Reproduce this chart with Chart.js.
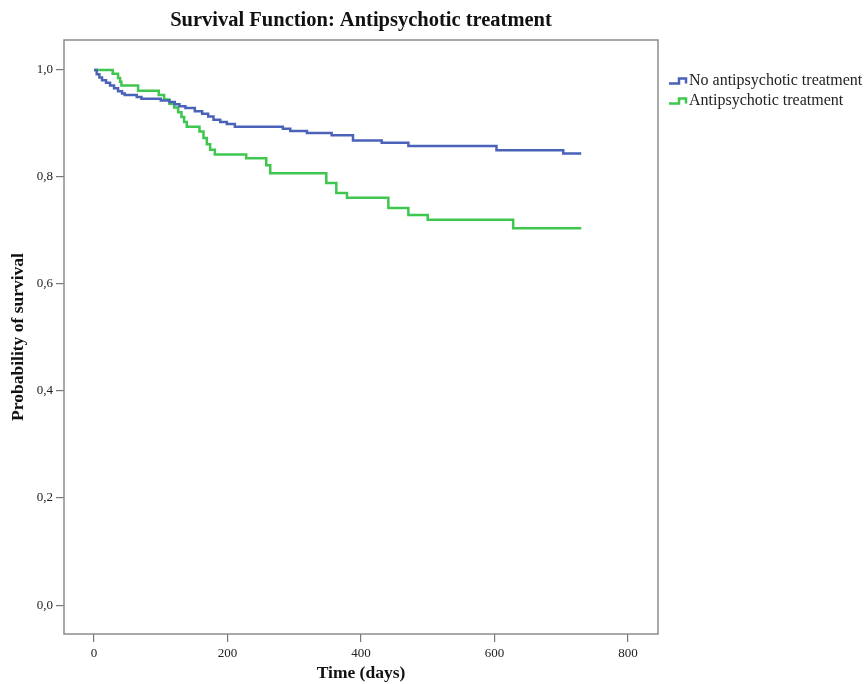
<!DOCTYPE html>
<html>
<head>
<meta charset="utf-8">
<script src="https://cdn.jsdelivr.net/npm/chart.js@4.4.1/dist/chart.umd.min.js"></script>
<style>
  html, body { margin: 0; padding: 0; background: #fff; }
  #wrap { width: 868px; height: 684px; }
</style>
</head>
<body>
<div id="wrap"><canvas id="myChart" width="868" height="684"></canvas></div>
<script>
// Kaplan-Meier step points (day of drop, survival after drop)
let noTreatDays = [0, 4, 8, 12, 18, 24, 30, 36, 42, 46, 64, 71, 100, 113, 121, 128, 137, 151, 162, 171, 179, 189, 199, 211, 283, 294, 319, 356, 388, 431, 471, 603, 703, 730]
let noTreatSurv = [1.0, 0.992, 0.986, 0.981, 0.976, 0.971, 0.966, 0.960, 0.956, 0.953, 0.9495, 0.946, 0.943, 0.940, 0.936, 0.932, 0.929, 0.923, 0.918, 0.913, 0.907, 0.903, 0.899, 0.894, 0.890, 0.886, 0.882, 0.878, 0.868, 0.864, 0.858, 0.850, 0.844, 0.844]

let treatDays = [0, 28, 36, 39, 41, 66, 97, 105, 113, 120, 126, 131, 135, 139, 158, 164, 169, 174, 181, 228, 258, 264, 348, 363, 379, 441, 471, 500, 628, 730]
let treatSurv = [1.0, 0.993, 0.985, 0.978, 0.971, 0.961, 0.953, 0.945, 0.937, 0.930, 0.921, 0.912, 0.903, 0.894, 0.885, 0.873, 0.861, 0.851, 0.842, 0.835, 0.822, 0.807, 0.789, 0.770, 0.761, 0.742, 0.729, 0.720, 0.704, 0.704]

let seriesNames = ["No antipsychotic treatment", "Antipsychotic treatment"]
let seriesColors = ['#4a62b8', '#3ec64f']
let xTicks = [0, 200, 400, 600, 800]
let yTicks = [0, 0.2, 0.4, 0.6, 0.8, 1.0]

function toPoints(days, surv) {
    return days.map((d, i) => ({x: d, y: surv[i]}))
}

let serif = "'Liberation Serif', 'DejaVu Serif', serif"

// frame round the plot area + legend to the right of it, like SPSS
let spssBits = {
    id: 'spssBits',
    afterDraw(chart) {
        let c = chart.ctx
        let a = chart.chartArea
        c.save()
        c.strokeStyle = '#8c8c8c'
        c.lineWidth = 1.5
        c.strokeRect(a.left, a.top, a.right - a.left, a.bottom - a.top)

        c.font = "16px " + serif
        c.textBaseline = 'middle'
        c.fillStyle = '#222'
        let lx = a.right + 11
        seriesNames.forEach((name, i) => {
            let y = 81 + i * 20
            c.strokeStyle = seriesColors[i]
            c.lineWidth = 2.5
            c.beginPath()
            c.moveTo(lx, y + 2.5)
            c.lineTo(lx + 10, y + 2.5)
            c.lineTo(lx + 10, y - 2.5)
            c.lineTo(lx + 17, y - 2.5)
            c.lineTo(lx + 17, y + 2.5)
            c.stroke()
            c.fillText(name, lx + 20, y)
        })
        c.restore()
    }
}

let ctx = document.querySelector("#myChart")
let graphData = {
    type: 'line',
    data: {
        datasets: [{
            label: seriesNames[0],
            data: toPoints(noTreatDays, noTreatSurv),
            borderColor: seriesColors[0],
            borderWidth: 2.5,
            stepped: 'before',
            pointRadius: 0,
            fill: false
        }, {
            label: seriesNames[1],
            data: toPoints(treatDays, treatSurv),
            borderColor: seriesColors[1],
            borderWidth: 2.5,
            stepped: 'before',
            pointRadius: 0,
            fill: false
        }]
    },
    options: {
        responsive: false,
        animation: false,
        layout: { padding: { left: 0, right: 210, top: 0, bottom: 0 } },
        plugins: {
            legend: { display: false },
            tooltip: { enabled: false },
            title: {
                display: true,
                text: 'Survival Function: Antipsychotic treatment',
                fullSize: false,
                color: '#111',
                font: { family: serif, size: 20.5, weight: 'bold', lineHeight: 1.2 },
                padding: { top: 8, bottom: 7.4 }
            }
        },
        scales: {
            x: {
                type: 'linear',
                min: -45,
                max: 845,
                afterBuildTicks: axis => { axis.ticks = xTicks.map(v => ({value: v})) },
                afterFit: axis => { axis.height = 50 },
                grid: { drawOnChartArea: false, drawTicks: true, tickLength: 8, color: '#777', lineWidth: 1.2 },
                border: { display: false },
                ticks: { color: '#222', padding: 4, font: { family: serif, size: 13 } },
                title: {
                    display: true,
                    text: 'Time (days)',
                    color: '#111',
                    font: { family: serif, size: 17.5, weight: 'bold', lineHeight: 1.2 },
                    padding: { top: 0, bottom: 0 }
                }
            },
            y: {
                min: -0.054,
                max: 1.056,
                afterBuildTicks: axis => { axis.ticks = yTicks.map(v => ({value: v})) },
                afterFit: axis => { axis.width = 64 },
                grid: { drawOnChartArea: false, drawTicks: true, tickLength: 8, color: '#777', lineWidth: 1.2 },
                border: { display: false },
                ticks: {
                    color: '#222',
                    padding: 3,
                    font: { family: serif, size: 13 },
                    callback: v => v.toFixed(1).replace('.', ',')
                },
                title: {
                    display: true,
                    text: 'Probability of survival',
                    color: '#111',
                    font: { family: serif, size: 17.5, weight: 'bold', lineHeight: 1.2 },
                    padding: { top: 8, bottom: 0 }
                }
            }
        }
    },
    plugins: [spssBits]
}
let myChart = new Chart(ctx, graphData)
</script>
</body>
</html>
